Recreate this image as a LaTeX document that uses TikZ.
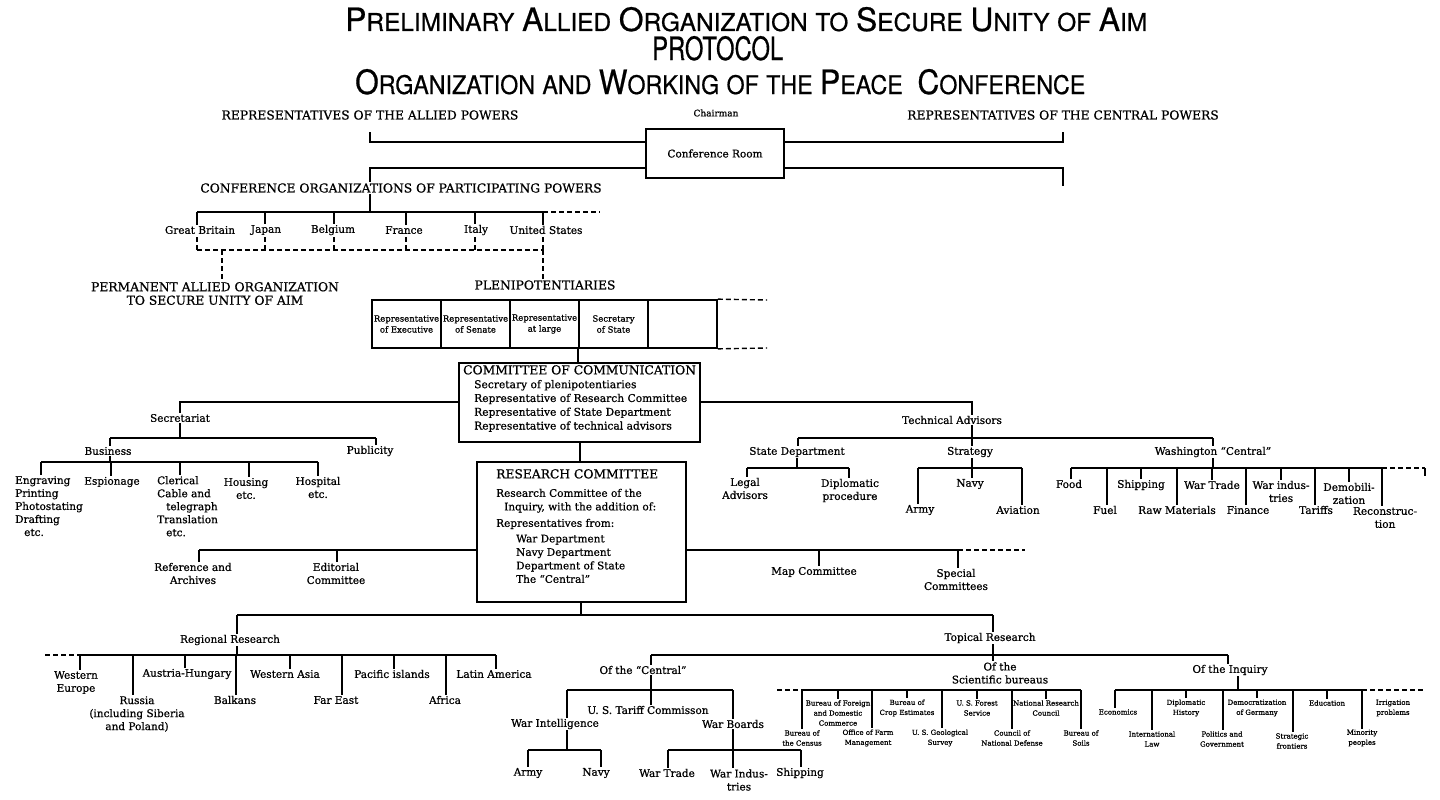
\documentclass[tikz,border=0pt]{standalone}
\usepackage{fontspec}
\usepackage{graphicx}
\setmainfont{DejaVu Serif}[FakeBold=0.7]
\newfontfamily\titlefont{TeX Gyre Heros}[FakeBold=0.6]
\newcommand\lblf{\fontsize{10.5}{13}\selectfont}
\newcommand\capsf{\fontsize{12.3}{13.5}\selectfont}
\newcommand\cellsf{\fontsize{8.5}{11}\selectfont}
\newcommand\tinyf{\fontsize{7}{10}\selectfont}
\newcommand\Bg[1]{{\fontsize{30}{30}\selectfont #1}}
\newcommand\Sm[1]{{\fontsize{23}{23}\selectfont #1}}
\newcommand\dropc[3]{\draw[conn] (#1,#2) -- (#1,#2 |- #3.north);}
\newcommand\upc[3]{\draw[conn] (#1,#2) -- (#1,#2 |- #3.south);}
\newcommand\dashupc[3]{\draw[dconn] (#1,#2) -- (#1,#2 |- #3.south);}
\newcommand\dashdropc[3]{\draw[dconn] (#1,#2) -- (#1,#2 |- #3.north);}
\begin{document}
\begin{tikzpicture}[x=1pt,y=-1pt,
  lbl/.style={font=\lblf, inner sep=1pt, align=center},
  caplbl/.style={font=\capsf, inner sep=1pt, align=center},
  cell/.style={draw, line width=1.7pt, minimum width=69pt, minimum height=48pt, inner sep=0pt, font=\cellsf, align=center},
  tny/.style={font=\tinyf, inner sep=1pt, align=center},
  conn/.style={line width=1.7pt},
  dconn/.style={line width=1.4pt, dash pattern=on 5pt off 3pt},
  frame/.style={draw, line width=1.7pt, inner sep=0pt}]
\fill[white] (0,0) rectangle (1440,800);
\useasboundingbox (0,0) rectangle (1440,800);

% ---------- title ----------
\node[anchor=base west,inner sep=0] (t1) at (345,31) {\resizebox{802pt}{24pt}{\titlefont\fontsize{26}{26}\selectfont \Bg{P}\Sm{RELIMINARY} \Bg{A}\Sm{LLIED} \Bg{O}\Sm{RGANIZATION} \Sm{TO} \Bg{S}\Sm{ECURE} \Bg{U}\Sm{NITY} \Sm{OF} \Bg{A}\Sm{IM}}};
\node[anchor=base west,inner sep=0] (t2) at (652,60) {\resizebox{131pt}{24pt}{\titlefont\fontsize{26}{26}\selectfont \Bg{PROTOCOL}}};
\node[anchor=base west,inner sep=0] (t3) at (355,94) {\resizebox{730pt}{25pt}{\titlefont\fontsize{26}{26}\selectfont \Bg{O}\Sm{RGANIZATION} \Sm{AND} \Bg{W}\Sm{ORKING} \Sm{OF} \Sm{THE} \Bg{P}\Sm{EACE}\ \ \Bg{C}\Sm{ONFERENCE}}};

% ---------- conference room ----------
\node[caplbl] (allied) at (370,115) {REPRESENTATIVES OF THE ALLIED POWERS};
\node[lbl,font=\fontsize{9}{11}\selectfont] (chair) at (716,113) {Chairman};
\node[caplbl] (central) at (1063,115) {REPRESENTATIVES OF THE CENTRAL POWERS};
\node[frame, minimum width=138pt, minimum height=49pt, font=\lblf] (room) at (715,153.5) {Conference Room};
\draw[conn] (370,132) -- (370,142) -- (room.west |- 0,142);
\draw[conn] (room.east |- 0,142) -- (1063,142) -- (1063,132);
\node[caplbl] (confo) at (401,188) {CONFERENCE ORGANIZATIONS OF PARTICIPATING POWERS};
\draw[conn] (room.west |- 0,168) -- (370,168) -- (370,168 |- confo.north);
\draw[conn] (room.east |- 0,168) -- (1063,168) -- (1063,186);
\draw[conn] (370,212 |- confo.south) -- (370,212);

% ---------- powers ----------
\draw[conn] (197,212) -- (543,212);
\draw[dconn] (543,212) -- (600,212);
\node[lbl] (gb) at (200,230) {Great Britain};
\node[lbl] (japan) at (266,230) {Japan};
\node[lbl] (belg) at (333,230) {Belgium};
\node[lbl] (fran) at (404,230) {France};
\node[lbl] (ital) at (476,230) {Italy};
\node[lbl] (us) at (546,230) {United States};
\dropc{197}{212}{gb}
\dropc{265}{212}{japan}
\dropc{334}{212}{belg}
\dropc{406}{212}{fran}
\dropc{475}{212}{ital}
\dropc{543}{212}{us}
\dashupc{197}{250}{gb}
\dashupc{265}{250}{japan}
\dashupc{334}{250}{belg}
\dashupc{406}{250}{fran}
\dashupc{475}{250}{ital}
\dashupc{543}{250}{us}
\draw[dconn] (197,250) -- (543,250);
\node[caplbl] (perm) at (215,293.5) {PERMANENT ALLIED ORGANIZATION\\TO SECURE UNITY OF AIM};
\node[caplbl] (pleni) at (545,285) {PLENIPOTENTIARIES};
\dashdropc{222}{250}{perm}
\dashdropc{543}{250}{pleni}

% ---------- plenipotentiaries table ----------
\node[cell] (c1) at (406.5,324) {Representative\\of Executive};
\node[cell] (c2) at (475.5,324) {Representative\\of Senate};
\node[cell] (c3) at (544.5,324) {Representative\\at large};
\node[cell] (c4) at (613.5,324) {Secretary\\of State};
\node[cell] (c5) at (682.5,324) {};
\draw[dconn] (c5.north east) -- (767,300);
\draw[dconn] (c5.south east) -- (767,348);

% ---------- committee of communication ----------
\node[frame, minimum width=241pt, minimum height=79pt] (comm) at (579.5,402.5) {};
\node[anchor=north west, inner sep=0pt, align=left, font=\fontsize{10.7}{13.8}\selectfont] (commtxt) at (463,365)
  {{\capsf COMMITTEE OF COMMUNICATION}\\
   \hspace*{11pt}Secretary of plenipotentiaries\\
   \hspace*{11pt}Representative of Research Committee\\
   \hspace*{11pt}Representative of State Department\\
   \hspace*{11pt}Representative of technical advisors};
\draw[conn] (c4.south west) -- (c4.south west |- comm.north);
\node[lbl] (sec) at (180,418) {Secretariat};
\node[lbl] (tech) at (952,420) {Technical Advisors};
\draw[conn] (comm.west |- 0,402) -- (180,402) -- (180,402 |- sec.north);
\draw[conn] (comm.east |- 0,402) -- (972,402) -- (972,402 |- tech.north);

% ---------- secretariat ----------
\draw[conn] (180,438 |- sec.south) -- (180,438);
\draw[conn] (110,438) -- (376,438);
\node[lbl] (busi) at (108,451) {Business};
\node[lbl] (publ) at (370,451) {Publicity};
\dropc{110}{438}{busi}
\dropc{376}{438}{publ}
\upc{110}{462}{busi}
\draw[conn] (41,462) -- (318,462);
\node[lbl, anchor=north west, align=left] (eng) at (14,475) {Engraving\\Printing\\Photostating\\Drafting\\\hspace*{9pt}etc.};
\node[lbl] (esp) at (112,482) {Espionage};
\node[lbl, anchor=north west, align=left] (cler) at (156,475) {Clerical\\Cable and\\\hspace*{9pt}telegraph\\Translation\\\hspace*{9pt}etc.};
\node[lbl] (hous) at (246,488.5) {Housing\\etc.};
\node[lbl] (hosp) at (318,487.5) {Hospital\\etc.};
\dropc{41}{462}{eng}
\dropc{111}{462}{esp}
\dropc{180}{462}{cler}
\dropc{249}{462}{hous}
\dropc{318}{462}{hosp}

% ---------- technical advisors ----------
\draw[conn] (972,438 |- tech.south) -- (972,438);
\draw[conn] (798,438) -- (1213,438);
\node[lbl] (stdep) at (797,452) {State Department};
\node[lbl] (strat) at (970,452) {Strategy};
\node[lbl] (wash) at (1213,452) {Washington ``Central''};
\dropc{798}{438}{stdep}
\dropc{972}{438}{strat}
\dropc{1213}{438}{wash}
% state department
\upc{797}{468}{stdep}
\draw[conn] (747,468) -- (849,468);
\node[lbl] (legal) at (745,488.5) {Legal\\Advisors};
\node[lbl] (dipl) at (850,490.5) {Diplomatic\\procedure};
\dropc{747}{468}{legal}
\dropc{849}{468}{dipl}
% strategy
\upc{972}{468}{strat}
\draw[conn] (918,468) -- (1022,468);
\node[lbl] (army1) at (920,510) {Army};
\node[lbl] (navy1) at (970,484) {Navy};
\node[lbl] (avia) at (1018,510) {Aviation};
\dropc{918}{468}{army1}
\dropc{972}{468}{navy1}
\dropc{1022}{468}{avia}
% washington central
\upc{1213}{468}{wash}
\draw[conn] (1071,468) -- (1382,468);
\draw[dconn] (1382,468) -- (1425,468);
\draw[conn] (1425,468) -- (1425,476);
\node[lbl] (food) at (1069,484) {Food};
\node[lbl] (fuel) at (1105,510) {Fuel};
\node[lbl] (ship) at (1141,485) {Shipping};
\node[lbl] (raw) at (1177,510) {Raw Materials};
\node[lbl] (wtrade) at (1212,485) {War Trade};
\node[lbl] (fin) at (1248,510) {Finance};
\node[lbl] (wind) at (1281,491.5) {War indus-\\tries};
\node[lbl] (tar) at (1316,510) {Tariffs};
\node[lbl] (demob) at (1349,493.5) {Demobili-\\zation};
\node[lbl] (recon) at (1385,517.5) {Reconstruc-\\tion};
\dropc{1071}{468}{food}
\dropc{1107}{468}{fuel}
\dropc{1141}{468}{ship}
\dropc{1177}{468}{raw}
\dropc{1212}{468}{wtrade}
\dropc{1246}{468}{fin}
\dropc{1281}{468}{wind}
\dropc{1315}{468}{tar}
\dropc{1349}{468}{demob}
\dropc{1382}{468}{recon}

% ---------- research committee ----------
\node[frame, minimum width=209pt, minimum height=140pt] (res) at (581.5,532) {};
\node[anchor=north west, inner sep=0pt, align=left, font=\fontsize{10.5}{13.5}\selectfont] (restxt) at (496,469)
  {{\capsf RESEARCH COMMITTEE}\\[5pt]
   Research Committee of the\\
   \hspace*{8pt}Inquiry, with the addition of:\\[3pt]
   Representatives from:\\[2pt]
   \hspace*{20pt}War Department\\
   \hspace*{20pt}Navy Department\\
   \hspace*{20pt}Department of State\\
   \hspace*{20pt}The ``Central''};
\draw[conn] (comm.south -| 580,0) -- (res.north -| 580,0);
\node[lbl] (refa) at (193,573.5) {Reference and\\Archives};
\node[lbl] (edit) at (336,573.5) {Editorial\\Committee};
\node[lbl] (mapc) at (814,572) {Map Committee};
\node[lbl] (spec) at (956,579.5) {Special\\Committees};
\draw[conn] (res.west |- 0,550) -- (199,550);
\dropc{199}{550}{refa}
\dropc{337}{550}{edit}
\draw[conn] (res.east |- 0,550) -- (958,550);
\draw[dconn] (958,550) -- (1025,550);
\dropc{819}{550}{mapc}
\dropc{958}{550}{spec}

% ---------- research branches ----------
\draw[conn] (res.south -| 581,0) -- (581,615);
\draw[conn] (237,615) -- (993,615);
\node[lbl] (regr) at (230,640) {Regional Research};
\node[lbl] (topr) at (990,638) {Topical Research};
\dropc{237}{615}{regr}
\dropc{993}{615}{topr}

% regional
\upc{237}{655}{regr}
\draw[dconn] (45,655) -- (80,655);
\draw[conn] (80,655) -- (496,655);
\node[lbl] (weu) at (76,682.5) {Western\\Europe};
\node[lbl] (russ) at (137,714) {Russia\\(including Siberia\\and Poland)};
\node[lbl] (ahun) at (187,674) {Austria-Hungary};
\node[lbl] (balk) at (235,700) {Balkans};
\node[lbl] (wasia) at (285,674) {Western Asia};
\node[lbl] (fare) at (336,700) {Far East};
\node[lbl] (paci) at (392,674) {Pacific islands};
\node[lbl] (afri) at (445,700) {Africa};
\node[lbl] (lati) at (494,674) {Latin America};
\dropc{80}{655}{weu}
\dropc{133}{655}{russ}
\dropc{185}{655}{ahun}
\dropc{236}{655}{balk}
\dropc{290}{655}{wasia}
\dropc{342}{655}{fare}
\dropc{394}{655}{paci}
\dropc{446}{655}{afri}
\dropc{496}{655}{lati}

% topical
\upc{993}{655}{topr}
\draw[conn] (651,655) -- (1228,655);
\node[lbl] (ofc) at (643,670) {Of the ``Central''};
\node[lbl] (ofs) at (1000,673) {Of the\\Scientific bureaus};
\node[lbl] (ofi) at (1230,670) {Of the Inquiry};
\dropc{651}{655}{ofc}
\dropc{993}{655}{ofs}
\dropc{1228}{655}{ofi}

% of the central
\upc{651}{690}{ofc}
\draw[conn] (567,690) -- (733,690);
\node[lbl] (wint) at (555,724) {War Intelligence};
\node[lbl] (tariff) at (648,710) {U. S. Tariff Commisson};
\node[lbl] (wboard) at (733,724) {War Boards};
\dropc{567}{690}{wint}
\dropc{651}{690}{tariff}
\dropc{733}{690}{wboard}
\upc{567}{750}{wint}
\draw[conn] (528,750) -- (601,750);
\node[lbl] (armyb) at (528,773) {Army};
\node[lbl] (navyb) at (596,773) {Navy};
\dropc{528}{750}{armyb}
\dropc{601}{750}{navyb}
\upc{733}{750}{wboard}
\draw[conn] (668,750) -- (801,750);
\node[lbl] (wtr) at (667,773) {War Trade};
\node[lbl] (wind2) at (739,780) {War Indus-\\tries};
\node[lbl] (shipb) at (800,773) {Shipping};
\dropc{668}{750}{wtr}
\dropc{733}{750}{wind2}
\dropc{801}{750}{shipb}

% scientific bureaus
\draw[dconn] (777,690) -- (802,690);
\draw[conn] (802,690) -- (1081,690);
\node[tny] (bfdc) at (838,713) {Bureau of Foreign\\and Domestic\\Commerce};
\node[tny] (bce) at (907,708) {Bureau of\\Crop Estimates};
\node[tny] (usfs) at (977,708) {U. S. Forest\\Service};
\node[tny] (nrc) at (1046,708) {National Research\\Council};
\node[tny] (bcen) at (802,738) {Bureau of\\the Census};
\node[tny] (ofm) at (868,738) {Office of Farm\\Management};
\node[tny] (usgs) at (940,738) {U. S. Geological\\Survey};
\node[tny] (cnd) at (1012,738) {Council of\\National Defense};
\node[tny] (bsoil) at (1081,738) {Bureau of\\Soils};
\dropc{838}{690}{bfdc}
\dropc{907}{690}{bce}
\dropc{977}{690}{usfs}
\dropc{1046}{690}{nrc}
\dropc{802}{690}{bcen}
\dropc{872}{690}{ofm}
\dropc{942}{690}{usgs}
\dropc{1012}{690}{cnd}
\dropc{1081}{690}{bsoil}

% of the inquiry
\upc{1238}{690}{ofi}
\draw[conn] (1115,690) -- (1362,690);
\draw[dconn] (1362,690) -- (1425,690);
\node[tny] (econ) at (1118,712) {Economics};
\node[tny] (dhist) at (1186,708) {Diplomatic\\History};
\node[tny] (demg) at (1257,708) {Democratization\\of Germany};
\node[tny] (educ) at (1327,703) {Education};
\node[tny] (irri) at (1393,708) {Irrigation\\problems};
\node[tny] (intl) at (1152,739) {International\\Law};
\node[tny] (polg) at (1222,739) {Politics and\\Government};
\node[tny] (strf) at (1292,741) {Strategic\\frontiers};
\node[tny] (mino) at (1362,738) {Minority\\peoples};
\dropc{1115}{690}{econ}
\dropc{1186}{690}{dhist}
\dropc{1257}{690}{demg}
\dropc{1327}{690}{educ}
\dropc{1152}{690}{intl}
\dropc{1223}{690}{polg}
\dropc{1293}{690}{strf}
\dropc{1362}{690}{mino}
\end{tikzpicture}
\end{document}
